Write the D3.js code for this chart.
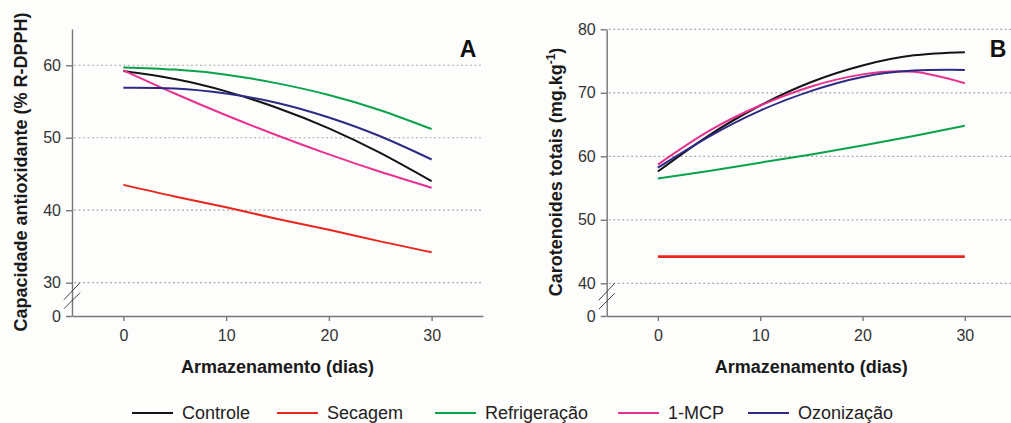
<!DOCTYPE html>
<html>
<head>
<meta charset="utf-8">
<script src="https://cdn.jsdelivr.net/npm/d3@7"></script>
<style>
  body { margin: 0; background: #fdfdfc; }
  svg { display: block; font-family: Arial, "Liberation Sans", sans-serif; }
  .axis path, .axis line { stroke: #777; stroke-width: 1.4; }
  .grid { stroke: #aaa; stroke-width: 1.2; stroke-dasharray: 2,2.5; }
  .title { font-weight: bold; font-size: 18px; fill: #1a1a1a; }
</style>
</head>
<body>
<div id="chart"></div>
<script>
// data (days 0..30)
var days = [0, 5, 10, 15, 20, 25, 30]
var seriesNames = ['Controle', 'Secagem', 'Refrigeração', '1-MCP', 'Ozonização']
var seriesColors = ['#141414', '#e8261c', '#0aa24b', '#e8328f', '#2d2a86']

// Panel A: capacidade antioxidante
var controleA = [59.2, 58.1, 56.4, 54.1, 51.3, 47.9, 44.0]
var secagemA  = [43.5, 41.9, 40.4, 38.8, 37.3, 35.7, 34.2]
var refrigA   = [59.7, 59.4, 58.7, 57.5, 55.9, 53.8, 51.2]
var mcpA      = [59.3, 56.1, 53.1, 50.3, 47.7, 45.3, 43.1]
var ozonA     = [56.9, 56.8, 56.1, 54.8, 52.8, 50.2, 47.0]

// Panel B: carotenoides totais
var controleB = [57.6, 63.3, 68.0, 71.7, 74.3, 75.9, 76.4]
var secagemB  = [44.2, 44.2, 44.2, 44.2, 44.2, 44.2, 44.2]
var refrigB   = [56.5, 57.7, 59.0, 60.3, 61.7, 63.2, 64.8]
var mcpB      = [58.7, 64.0, 68.0, 71.0, 72.9, 73.3, 71.5]
var ozonB     = [58.2, 63.1, 67.2, 70.3, 72.5, 73.5, 73.6]

var xTicks = [0, 10, 20, 30]
var yTicksA = [0, 30, 40, 50, 60]
var gridA = [30, 40, 50, 60]
var yTicksB = [0, 40, 50, 60, 70, 80]
var gridB = [40, 50, 60, 70, 80]

var width = 1011
var height = 423

var svg = d3.select('#chart').append('svg')
  .attr('width', width)
  .attr('height', height)

function drawPanel(opt) {
  var x = d3.scaleLinear().domain([-5, 35]).range(opt.xRange)
  var y = d3.scaleLinear().domain(opt.yDomain).range(opt.yRange)
  var g = svg.append('g')
  var x0 = opt.xRange[0]
  var xEnd = Math.min(opt.xRange[1], width)

  // dotted gridlines
  g.selectAll('.grid').data(opt.grid).enter().append('line')
    .attr('class', 'grid')
    .attr('x1', x0 + 2).attr('x2', xEnd)
    .attr('y1', function (d) { return y(d) }).attr('y2', function (d) { return y(d) })

  // series
  var line = d3.line()
    .x(function (d, i) { return x(days[i]) })
    .y(function (d) { return y(d) })
    .curve(d3.curveNatural)

  g.selectAll('.series').data(opt.series).enter().append('path')
    .attr('class', 'series')
    .attr('d', function (d) { return line(d) })
    .attr('fill', 'none')
    .attr('stroke', function (d, i) { return seriesColors[i] })
    .attr('stroke-width', function (d, i) { return i == 1 && opt.label == 'B' ? 2.6 : 2 })

  g.append('g').attr('class', 'x axis')
    .attr('transform', 'translate(0,' + y(0) + ')')
    .call(d3.axisBottom(x).tickValues(xTicks).tickSizeInner(5).tickSizeOuter(0).tickPadding(9))
    .attr('font-size', 16).attr('font-family', null)
    .selectAll('text').attr('fill', '#333')

  g.append('g').attr('class', 'y axis')
    .attr('transform', 'translate(' + x0 + ',0)')
    .call(d3.axisLeft(y).tickValues(opt.yTicks).tickSizeInner(6).tickSizeOuter(0).tickPadding(5))
    .attr('font-size', 16).attr('font-family', null)
    .selectAll('text').attr('fill', '#333')

  // axis break marks
  var yb = y(opt.yDomain[1])
  g.append('line').attr('x1', x0 - 8).attr('y1', yb + 17).attr('x2', x0 + 8).attr('y2', yb)
    .attr('stroke', '#444').attr('stroke-width', 1)
  g.append('line').attr('x1', x0 - 8).attr('y1', yb + 26).attr('x2', x0 + 8).attr('y2', yb + 10)
    .attr('stroke', '#444').attr('stroke-width', 1)

  // axis titles
  g.append('text').attr('class', 'title')
    .attr('text-anchor', 'middle')
    .attr('x', (opt.xRange[0] + opt.xRange[1]) / 2)
    .attr('y', 373)
    .text('Armazenamento (dias)')

  var yt = g.append('text').attr('class', 'title')
    .attr('text-anchor', 'middle')
    .attr('transform', 'translate(' + opt.yTitleX + ',' + opt.yTitleY + ') rotate(-90)')
  opt.yTitle(yt)

  g.append('text')
    .attr('x', opt.labelX).attr('y', 57)
    .attr('text-anchor', 'middle')
    .style('font-weight', 'bold').style('font-size', '23px').attr('fill', '#111')
    .text(opt.label)
}

drawPanel({
  label: 'A', labelX: 468,
  xRange: [72, 483],
  yDomain: [0, 30, 65], yRange: [316, 282.7, 29],
  yTicks: yTicksA, grid: gridA,
  series: [controleA, secagemA, refrigA, mcpA, ozonA],
  yTitleX: 27, yTitleY: 172,
  yTitle: function (t) { t.text('Capacidade antioxidante (% R-DPPH)') }
})

drawPanel({
  label: 'B', labelX: 998,
  xRange: [606.7, 1016],
  yDomain: [0, 40, 80], yRange: [316, 283.3, 29.3],
  yTicks: yTicksB, grid: gridB,
  series: [controleB, secagemB, refrigB, mcpB, ozonB],
  yTitleX: 562, yTitleY: 172,
  yTitle: function (t) {
    t.append('tspan').text('Carotenoides totais (mg.kg')
    t.append('tspan').attr('dy', -7).style('font-size', '12px').text('-1')
    t.append('tspan').attr('dy', 7).text(')')
  }
})

// legend
var legendX = [182, 327, 485, 668, 798]
var legend = svg.append('g')
var items = legend.selectAll('g').data(seriesNames).enter().append('g')
  .attr('transform', function (d, i) { return 'translate(' + legendX[i] + ',0)' })
items.append('line')
  .attr('x1', -50).attr('x2', -9).attr('y1', 413).attr('y2', 413)
  .attr('stroke', function (d, i) { return seriesColors[i] })
  .attr('stroke-width', 2)
items.append('text')
  .attr('x', 0).attr('y', 419)
  .style('font-size', '18px').attr('fill', '#222')
  .text(function (d) { return d })
</script>
</body>
</html>
